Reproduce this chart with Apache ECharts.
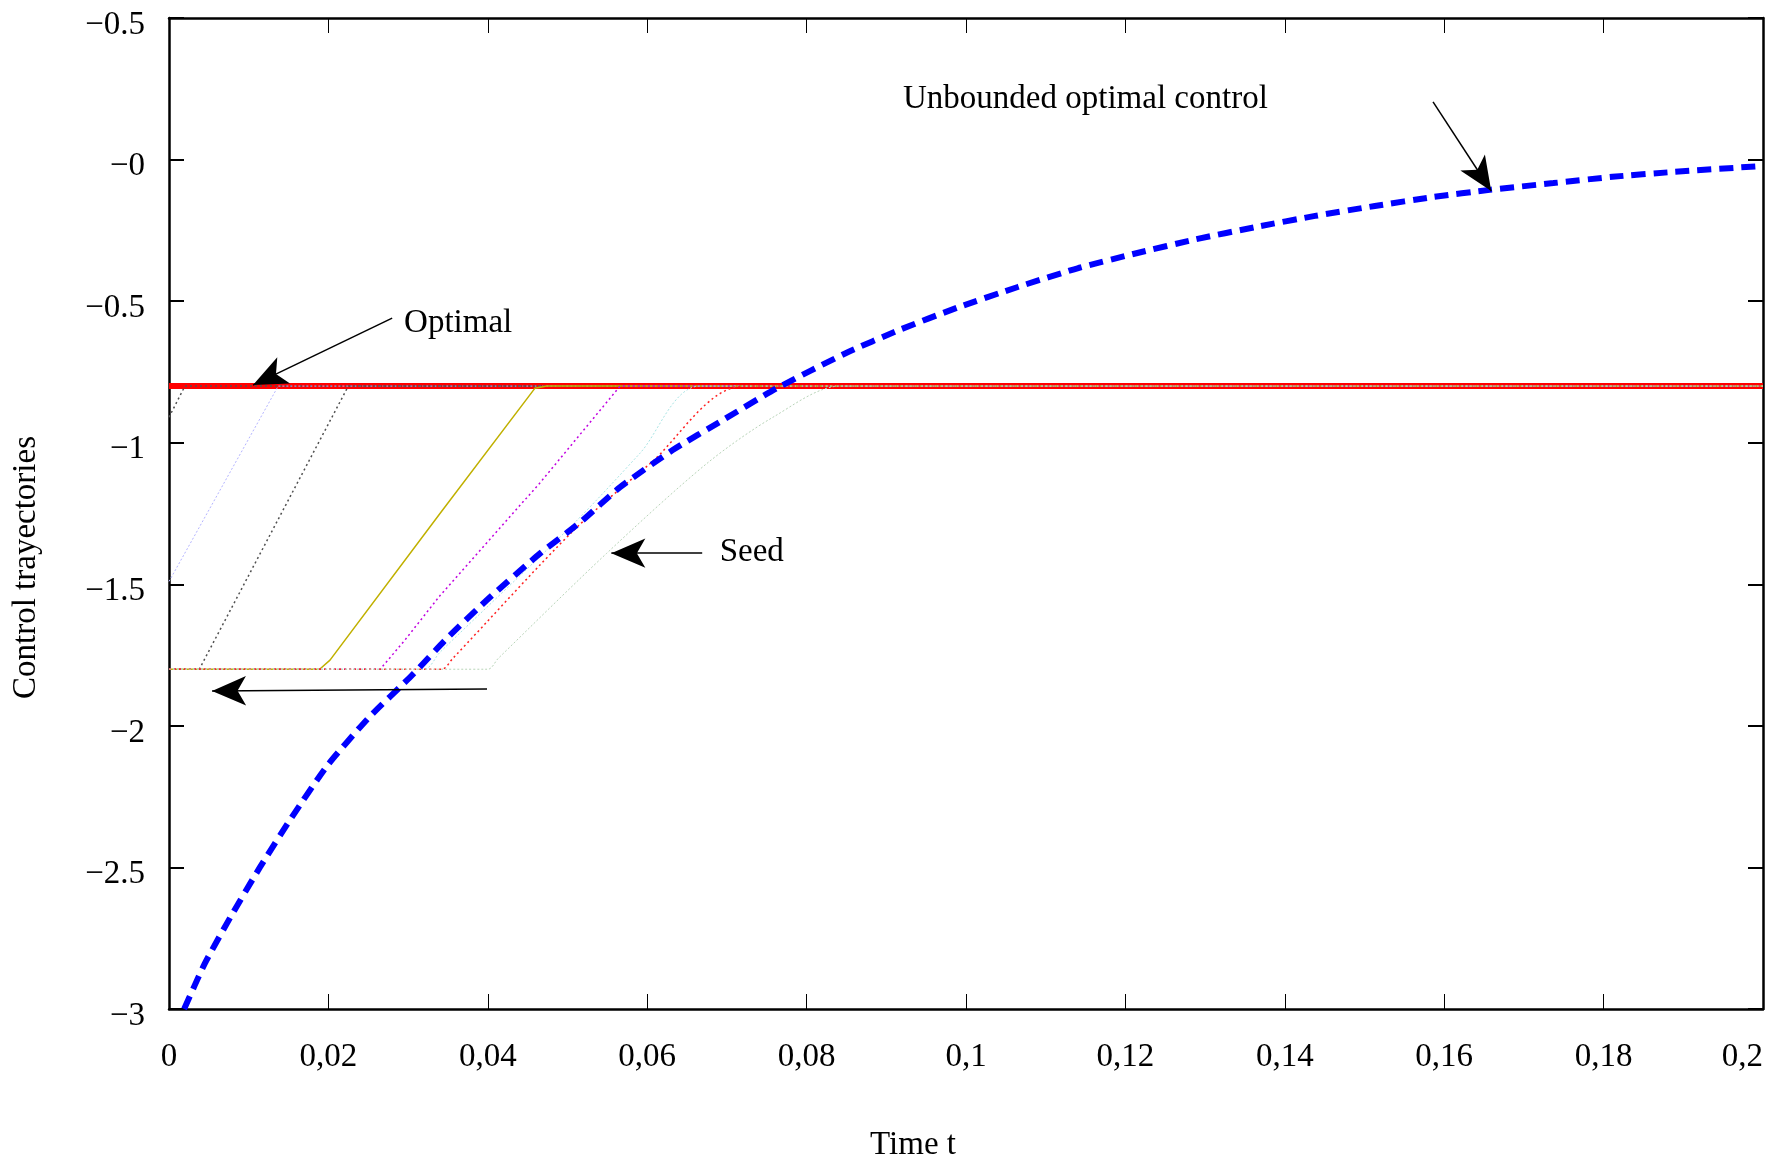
<!DOCTYPE html>
<html>
<head>
<meta charset="utf-8">
<script src="https://cdn.jsdelivr.net/npm/echarts@6/dist/echarts.min.js"></script>
<style>
html,body{margin:0;padding:0;background:#fff;}
#chart{width:1770px;height:1159px;}
</style>
</head>
<body>
<div id="chart"></div>
<script>
var xTicks = [0, 0.02, 0.04, 0.06, 0.08, 0.1, 0.12, 0.14, 0.16, 0.18, 0.2];
var yTicks = [-3, -2.5, -2, -1.5, -1, -0.5, 0, 0.5];

// unbounded optimal control (t, u)
var unbounded = [[0.0019,-3.0],[0.0045,-2.839],[0.0077,-2.676],[0.0114,-2.500],[0.0154,-2.323],
  [0.0199,-2.139],[0.0250,-1.973],[0.0305,-1.821],[0.0349,-1.690],[0.0403,-1.545],[0.0466,-1.390],
  [0.0516,-1.281],[0.0566,-1.157],[0.0632,-1.026],[0.0695,-0.920],[0.0763,-0.807],[0.0849,-0.684],
  [0.0916,-0.602],[0.0991,-0.521],[0.1065,-0.450],[0.1141,-0.383],[0.1215,-0.330],[0.1289,-0.281],
  [0.1364,-0.238],[0.1438,-0.199],[0.1513,-0.164],[0.1587,-0.132],[0.1657,-0.107],[0.1737,-0.083],
  [0.1811,-0.061],[0.1886,-0.044],[0.1997,-0.023]];

var optimal = [[0,-0.8],[0.2,-0.8]];

// seed trajectories
var seedA = [[0,-0.91],[0.002,-0.8],[0.2,-0.8]];
var seedB = [[0,-1.49],[0.0137,-0.8],[0.2,-0.8]];
var seedC = [[0,-1.8],[0.0038,-1.8],[0.0225,-0.8],[0.2,-0.8]];
var seedD = [[0,-1.8],[0.0189,-1.8],[0.0202,-1.768],[0.034,-1.25],[0.0459,-0.808],[0.0474,-0.8],[0.2,-0.8]];
var seedE = [[0,-1.8],[0.0265,-1.8],[0.0296,-1.697],[0.034,-1.54],[0.0466,-1.14],[0.0566,-0.8],[0.2,-0.8]];
var seedF = [[0,-1.8],[0.032,-1.8],[0.034,-1.74],[0.0508,-1.285],[0.0591,-1.037],[0.0666,-0.8],[0.2,-0.8]];
var seedG = [[0,-1.8],[0.0342,-1.8],[0.0356,-1.762],[0.0508,-1.309],[0.0604,-1.073],[0.0721,-0.8],[0.2,-0.8]];
var seedH = [[0,-1.8],[0.040,-1.8],[0.0413,-1.762],[0.0549,-1.391],[0.0675,-1.073],[0.0759,-0.908],[0.0842,-0.8],[0.2,-0.8]];

// annotations: [text, anchor t, anchor u]
var notes = [
  ['Optimal', 0.0295, -0.577],
  ['Seed', 0.0691, -1.387],
  ['Unbounded optimal control', 0.0921, 0.214]
];
var arrows = [
  [[0.0280,-0.560],[0.01054,-0.7965]],
  [[0.0669,-1.390],[0.0555,-1.390]],
  [[0.0399,-1.870],[0.0054,-1.877]],
  [[0.1586,0.2035],[0.1659,-0.111]]
];

var FONT = 'Liberation Serif';
var myChart = echarts.init(document.getElementById('chart'));

function seedSeries(data, color, width, type, smooth){
  return {
    type:'line', data:data, showSymbol:false, silent:true, smooth:smooth || false,
    lineStyle:{color:color, width:width, type:type}
  };
}

var xFmt = function(v){ return v === 0 ? '0' : String(+v.toFixed(2)).replace('.', ','); };
var yFmt = function(v){ return '\u2212' + String(Math.abs(+v.toFixed(1))); };

var baseX = {
  type:'value', min:0, max:0.2, interval:0.02,
  axisLine:{onZero:false, lineStyle:{color:'#000', width:2.5}},
  axisTick:{inside:true, length:15, lineStyle:{color:'#000', width:1}},
  splitLine:{show:false}
};
var baseY = {
  type:'value', min:-3, max:0.5, interval:0.5,
  axisLine:{onZero:false, lineStyle:{color:'#000', width:2.5}},
  axisTick:{inside:true, length:15, lineStyle:{color:'#000', width:2}},
  splitLine:{show:false}
};

var option = {
  animation:false,
  backgroundColor:'#fff',
  grid:{left:169, right:7, top:18, bottom:150, outerBoundsMode:'none', containLabel:false},
  xAxis:[
    echarts.util.merge({
      position:'bottom',
      axisLabel:{color:'#000', fontFamily:FONT, fontSize:33, margin:32, alignMaxLabel:'right', formatter:xFmt},
      name:'{a|Time t}', nameLocation:'middle', nameGap:120,
      nameTextStyle:{color:'#000', fontFamily:FONT, fontSize:33,
        rich:{a:{color:'#000', fontFamily:FONT, fontSize:33, padding:[0,106,0,0]}}}
    }, baseX),
    echarts.util.merge({position:'top', axisLabel:{show:false}}, baseX)
  ],
  yAxis:[
    echarts.util.merge({
      position:'left',
      axisLabel:{color:'#000', fontFamily:FONT, fontSize:33, margin:24,
        verticalAlign:'top', lineHeight:14, formatter:yFmt},
      name:'{a|Control trayectories}', nameLocation:'middle', nameGap:126, nameRotate:90,
      nameTextStyle:{color:'#000', fontFamily:FONT, fontSize:33,
        rich:{a:{color:'#000', fontFamily:FONT, fontSize:33, padding:[0,108,0,0]}}}
    }, baseY),
    echarts.util.merge({position:'right', axisLabel:{show:false}}, baseY)
  ],
  series:[
    {type:'line', data:optimal, showSymbol:false, silent:true,
     lineStyle:{color:'#ff0000', width:6}},
    seedSeries(seedA, '#505050', 1.5, [2,3]),
    seedSeries(seedB, '#b4b4ff', 1, [2,2]),
    seedSeries(seedC, '#505050', 1.5, [2,3]),
    seedSeries(seedD, '#c0b000', 1.5, 'solid'),
    seedSeries(seedE, '#c000e0', 1.5, [2,3]),
    seedSeries(seedF, '#a8e4e4', 1, [2,2], 0.3),
    seedSeries(seedG, '#ff2020', 1.5, [2,3], 0.3),
    seedSeries(seedH, '#b8d4b8', 1, [2,2], 0.3),
    {type:'line', data:unbounded, showSymbol:false, silent:true, smooth:0.2,
     lineStyle:{color:'#0000ff', width:6, type:[14,8]}},
    {type:'line', data:[], silent:true,
     markLine:{
       silent:true, animation:false,
       symbol:['none','arrow'], symbolSize:[22,34],
       label:{show:false},
       lineStyle:{color:'#000', width:1.5, type:'solid'},
       data:arrows.map(function(a){ return [{coord:a[0]},{coord:a[1]}]; })
     }}
  ]
};
myChart.setOption(option);

// text labels placed through the axes
var texts = notes.map(function(n){
  var p = myChart.convertToPixel({gridIndex:0}, [n[1], n[2]]);
  return {
    type:'text', x:p[0], y:p[1], silent:true,
    style:{text:n[0], fill:'#000', font:'33px "' + FONT + '"', textAlign:'left', textVerticalAlign:'middle'}
  };
});
myChart.setOption({graphic:texts});
</script>
</body>
</html>
